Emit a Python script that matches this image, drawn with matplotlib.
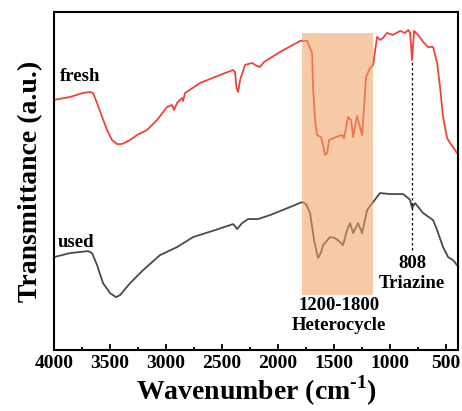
import matplotlib
matplotlib.use("Agg")
from matplotlib import pyplot as plt
from matplotlib.ticker import MultipleLocator
import matplotlib.patches as patches

plt.rcParams['font.family'] = ['Liberation Serif', 'DejaVu Serif']
plt.rcParams['font.weight'] = 'bold'
plt.rcParams['mathtext.fontset'] = 'custom'
plt.rcParams['mathtext.rm'] = 'Liberation Serif:bold'
plt.rcParams['mathtext.bf'] = 'Liberation Serif:bold'

# fresh sample spectrum (wavenumber, transmittance a.u.)
fresh_wn = [4000, 3857, 3741, 3679, 3652, 3616, 3571, 3527, 3482, 3438, 3393, 3321, 3259,
            3170, 3080, 2991, 2946, 2929, 2902, 2857, 2848, 2830, 2696, 2562, 2402, 2384,
            2371, 2357, 2339, 2295, 2232, 2188, 2161, 2125, 1982, 1804, 1759, 1741, 1696,
            1688, 1670, 1652, 1616, 1598, 1580, 1562, 1545, 1482, 1429, 1411, 1375, 1348,
            1330, 1295, 1250, 1214, 1179, 1152, 1116, 1089, 1063, 1027, 973, 911, 866,
            839, 821, 804, 786, 750, 705, 661, 616, 580, 554, 527, 491, 464, 402]
fresh_t = [250, 253, 257, 258, 257, 247, 233, 220, 210, 206, 206, 210, 215,
           220, 230, 243, 245, 240, 247, 252, 249, 257, 267, 273, 280, 278,
           262, 258, 270, 285, 287, 284, 283, 288, 298, 309, 309, 309, 297,
           263, 230, 215, 213, 205, 195, 197, 210, 213, 215, 212, 233, 230,
           213, 234, 215, 273, 282, 285, 313, 310, 312, 317, 315, 319, 317,
           320, 317, 290, 319, 315, 308, 303, 303, 287, 263, 233, 212, 207, 197]

# used sample spectrum
used_wn = [4000, 3857, 3696, 3661, 3616, 3563, 3500, 3446, 3411, 3321, 3205, 3054, 2902,
           2759, 2562, 2402, 2384, 2366, 2321, 2268, 2179, 2071, 1893, 1786, 1750, 1714,
           1679, 1643, 1616, 1598, 1536, 1491, 1446, 1420, 1384, 1357, 1330, 1286, 1250,
           1205, 1152, 1089, 1000, 884, 839, 821, 804, 777, 705, 616, 580, 527, 482, 438, 402]
used_t = [93, 97, 99, 97, 85, 67, 57, 53, 55, 67, 80, 95, 103,
          113, 120, 126, 124, 121, 127, 131, 131, 135, 143, 148, 146, 137,
          110, 92, 98, 105, 113, 112, 108, 105, 120, 127, 117, 127, 117,
          140, 148, 157, 156, 156, 152, 150, 142, 147, 137, 130, 120, 103, 93, 90, 85]

band_range = [1790, 1150]
triazine_wn = 808

fig = plt.figure(figsize=(4.62, 4.11), dpi=100)
ax = fig.add_axes([0.117, 0.148, 0.874, 0.823])

ax.plot(fresh_wn, fresh_t, color='#EE4338', lw=1.3)
ax.plot(used_wn, used_t, color='#4A4A4A', lw=1.3)

# highlighted heterocycle band
rect = patches.Rectangle((band_range[1], 55), band_range[0] - band_range[1], 262,
                         facecolor='#F0A060', alpha=0.55, edgecolor='none', zorder=3)
ax.add_patch(rect)

ax.plot([triazine_wn, triazine_wn], [100, 290], ls=(0, (2, 2)), color='black', lw=0.9)

ax.text(3946, 273, 'fresh', fontsize=13.5, fontweight='bold', va='center', ha='left')
ax.text(3964, 108, 'used', fontsize=13.5, fontweight='bold', va='center', ha='left')
ax.text(804, 87, '808', fontsize=13.5, fontweight='bold', va='center', ha='center')
ax.text(804, 67, 'Triazine', fontsize=13.5, fontweight='bold', va='center', ha='center')
ax.text(1455, 45, '1200-1800', fontsize=13.5, fontweight='bold', va='center', ha='center')
ax.text(1455, 25, 'Heterocycle', fontsize=13.5, fontweight='bold', va='center', ha='center')

ax.set_xlim(4000, 395)
ax.set_ylim(0, 338)
ax.xaxis.set_major_locator(MultipleLocator(500))
ax.xaxis.set_minor_locator(MultipleLocator(250))
ax.tick_params(axis='x', which='both', direction='in', top=False, labelsize=14, width=1.3)
ax.tick_params(axis='x', which='major', length=4)
ax.tick_params(axis='x', which='minor', length=2.5)
ax.set_yticks([])
for lbl in ax.get_xticklabels():
    lbl.set_fontweight('bold')
for sp in ax.spines.values():
    sp.set_linewidth(1.5)

ax.set_xlabel('Wavenumber (cm$^{\\text{-}1}$)', fontsize=20, fontweight='bold', labelpad=1)
ax.set_ylabel('Transmittance (a.u.)', fontsize=20, fontweight='bold', labelpad=8)

fig.savefig('out.png', dpi=100)
